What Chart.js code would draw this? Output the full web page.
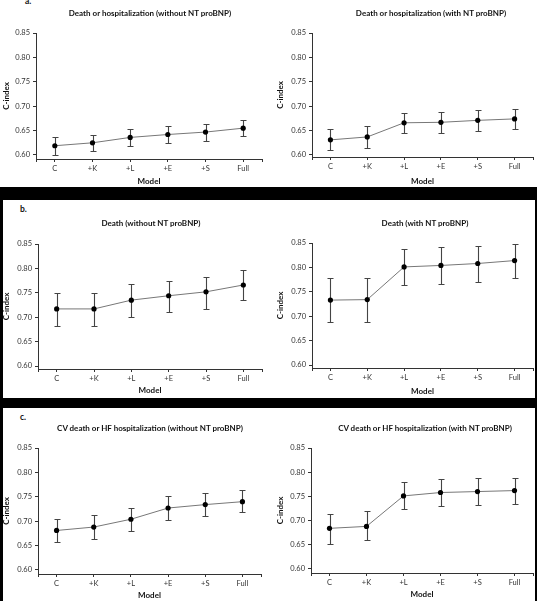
<!DOCTYPE html>
<html>
<head>
<meta charset="utf-8">
<script src="https://cdn.jsdelivr.net/npm/chart.js@4.4.1/dist/chart.umd.min.js"></script>
<style>
  body { margin: 0; background: #fff; }
  #page { position: relative; width: 537px; height: 601px; overflow: hidden; background: #fff; font-family: Lato, "DejaVu Sans", sans-serif; }
  .band { position: absolute; background: #000; }
  canvas { position: absolute; }
  .ttl { position: absolute; transform: translate(-50%, -50%); font-weight: 700; font-size: 8px; white-space: nowrap; color: #111; }
  .tag { position: absolute; font-weight: 700; font-size: 8.5px; color: #111; }
</style>
</head>
<body>
<div id="page"></div>
<script>
const models = ["C", "+K", "+L", "+E", "+S", "Full"];
const xTickValues = [-0.5, 0, 1, 2, 3, 4, 5, 5.5];
const yTickValues = [0.60, 0.65, 0.70, 0.75, 0.80, 0.85];

// a. death or hospitalization
const deathHospNoBnp     = [0.619, 0.625, 0.636, 0.642, 0.647, 0.655];
const deathHospNoBnpLow  = [0.601, 0.608, 0.618, 0.624, 0.629, 0.638];
const deathHospNoBnpHigh = [0.637, 0.642, 0.653, 0.660, 0.664, 0.672];
const deathHospBnp       = [0.631, 0.637, 0.666, 0.667, 0.671, 0.674];
const deathHospBnpLow    = [0.610, 0.614, 0.645, 0.646, 0.649, 0.653];
const deathHospBnpHigh   = [0.653, 0.659, 0.687, 0.688, 0.692, 0.695];
// b. death
const deathNoBnp     = [0.717, 0.717, 0.735, 0.744, 0.752, 0.766];
const deathNoBnpLow  = [0.682, 0.682, 0.701, 0.710, 0.717, 0.735];
const deathNoBnpHigh = [0.750, 0.750, 0.769, 0.775, 0.783, 0.796];
const deathBnp       = [0.733, 0.734, 0.801, 0.804, 0.808, 0.814];
const deathBnpLow    = [0.688, 0.689, 0.763, 0.766, 0.771, 0.778];
const deathBnpHigh   = [0.778, 0.778, 0.838, 0.841, 0.843, 0.848];
// c. CV death or HF hospitalization
const cvNoBnp     = [0.681, 0.688, 0.704, 0.727, 0.734, 0.740];
const cvNoBnpLow  = [0.657, 0.664, 0.680, 0.703, 0.710, 0.718];
const cvNoBnpHigh = [0.705, 0.712, 0.728, 0.751, 0.757, 0.763];
const cvBnp       = [0.684, 0.688, 0.751, 0.758, 0.760, 0.762];
const cvBnpLow    = [0.652, 0.660, 0.723, 0.731, 0.733, 0.735];
const cvBnpHigh   = [0.713, 0.719, 0.779, 0.785, 0.787, 0.787];

const series = [
  { title: "Death or hospitalization (without NT proBNP)", mean: deathHospNoBnp, low: deathHospNoBnpLow, high: deathHospNoBnpHigh },
  { title: "Death or hospitalization (with NT proBNP)",    mean: deathHospBnp,   low: deathHospBnpLow,   high: deathHospBnpHigh },
  { title: "Death (without NT proBNP)",                    mean: deathNoBnp,     low: deathNoBnpLow,     high: deathNoBnpHigh },
  { title: "Death (with NT proBNP)",                       mean: deathBnp,       low: deathBnpLow,       high: deathBnpHigh },
  { title: "CV death or HF hospitalization (without NT proBNP)", mean: cvNoBnp, low: cvNoBnpLow, high: cvNoBnpHigh },
  { title: "CV death or HF hospitalization (with NT proBNP)",    mean: cvBnp,   low: cvBnpLow,   high: cvBnpHigh }
];

// canvas box [x,y,w,h], plot area [l,t,r,b], y minimum at the x axis, title centre, "Model" padding
const layout = [
  { box: [0, 0, 268, 187],     area: [36, 33, 262, 159],   yMin: 0.5918, ttl: [150, 13],  mPad: 1 },
  { box: [274, 0, 263, 187],   area: [312, 33, 534, 157],  yMin: 0.5959, ttl: [431, 13],  mPad: 1 },
  { box: [0, 200, 268, 198],   area: [38, 244, 262, 369],  yMin: 0.5939, ttl: [151, 223], mPad: 2.5 },
  { box: [274, 200, 263, 198], area: [312, 243, 534, 368], yMin: 0.5939, ttl: [425, 223], mPad: 2 },
  { box: [0, 408, 268, 193],   area: [38, 448, 261, 574],  yMin: 0.5918, ttl: [150, 428], mPad: 1 },
  { box: [274, 408, 263, 193], area: [311, 448, 534, 573], yMin: 0.5917, ttl: [425, 428], mPad: 1.5 }
];

const bands = [[0, 187, 537, 13], [0, 200, 3, 198], [535, 200, 2, 198], [0, 398, 537, 10], [0, 408, 3, 193], [535, 408, 2, 193]];
const tags = [["a.", 25, -4], ["b.", 20, 204], ["c.", 20, 412]];

const FONT = "Lato, 'DejaVu Sans', sans-serif";
const AXIS = "#333";

const errorBars = {
  id: "errorBars",
  beforeDatasetsDraw(chart, args, opts) {
    const { ctx, scales: { x, y } } = chart;
    ctx.save();
    ctx.strokeStyle = "#444"; ctx.lineWidth = 1.1;
    opts.low.forEach((lo, i) => {
      const px = Math.round(x.getPixelForValue(i)) + 0.5;
      const y1 = Math.round(y.getPixelForValue(lo)) + 0.5;
      const y2 = Math.round(y.getPixelForValue(opts.high[i])) + 0.5;
      ctx.beginPath();
      ctx.moveTo(px, y1); ctx.lineTo(px, y2);
      ctx.moveTo(px - 3, y1); ctx.lineTo(px + 3, y1);
      ctx.moveTo(px - 3, y2); ctx.lineTo(px + 3, y2);
      ctx.stroke();
    });
    ctx.restore();
  }
};

function addDiv(cls, x, y, w, h, text) {
  const d = document.createElement("div");
  d.className = cls;
  d.style.left = x + "px"; d.style.top = y + "px";
  if (w != null) { d.style.width = w + "px"; d.style.height = h + "px"; }
  if (text) d.textContent = text;
  document.getElementById("page").appendChild(d);
}

function makePanel(s, L) {
  const [cx, cy, cw, ch] = L.box;
  const [al, at, ar, ab] = L.area;
  const cv = document.createElement("canvas");
  cv.width = cw; cv.height = ch;
  cv.style.left = cx + "px"; cv.style.top = cy + "px";
  document.getElementById("page").appendChild(cv);
  addDiv("ttl", L.ttl[0], L.ttl[1], null, null, s.title);

  new Chart(cv, {
    type: "line",
    data: { datasets: [{
      data: s.mean.map((v, i) => ({ x: i, y: v })),
      borderColor: "#777", borderWidth: 1,
      pointRadius: 2.6, pointBackgroundColor: "#000", pointBorderWidth: 0, tension: 0
    }] },
    options: {
      responsive: false, animation: false, events: [],
      layout: { padding: { left: 0, top: at - cy, right: cx + cw - ar, bottom: 0 } },
      plugins: { legend: { display: false }, tooltip: { enabled: false }, errorBars: { low: s.low, high: s.high } },
      scales: {
        x: {
          type: "linear", min: -0.5, max: 5.5,
          afterBuildTicks: sc => { sc.ticks = xTickValues.map(v => ({ value: v })); },
          afterFit: sc => { sc.height = cy + ch - ab; },
          ticks: { callback: v => Number.isInteger(v) ? models[v] : "", autoSkip: false, maxRotation: 0, padding: 2, color: "#333", font: { family: FONT, size: 7.5 } },
          grid: { drawOnChartArea: false, tickLength: 3, color: AXIS },
          border: { color: AXIS, width: 1 },
          title: { display: true, text: "Model", color: "#111", font: { family: FONT, size: 8, weight: "bold" }, padding: { top: 0, bottom: L.mPad } }
        },
        y: {
          min: L.yMin, max: 0.85,
          afterBuildTicks: sc => { sc.ticks = yTickValues.map(v => ({ value: v })); },
          afterFit: sc => { sc.width = al - cx; },
          ticks: { callback: v => v.toFixed(2), padding: 3, color: "#333", font: { family: FONT, size: 7.5 } },
          grid: { drawOnChartArea: false, tickLength: 3, color: AXIS },
          border: { color: AXIS, width: 1 },
          title: { display: true, text: "C-index", color: "#111", font: { family: FONT, size: 8, weight: "bold" }, padding: { top: 1.5, bottom: 0 } }
        }
      }
    },
    plugins: [errorBars]
  });
}

bands.forEach(b => addDiv("band", b[0], b[1], b[2], b[3]));
tags.forEach(t => addDiv("tag", t[1], t[2], null, null, t[0]));
series.forEach((s, i) => makePanel(s, layout[i]));
</script>
</body>
</html>
